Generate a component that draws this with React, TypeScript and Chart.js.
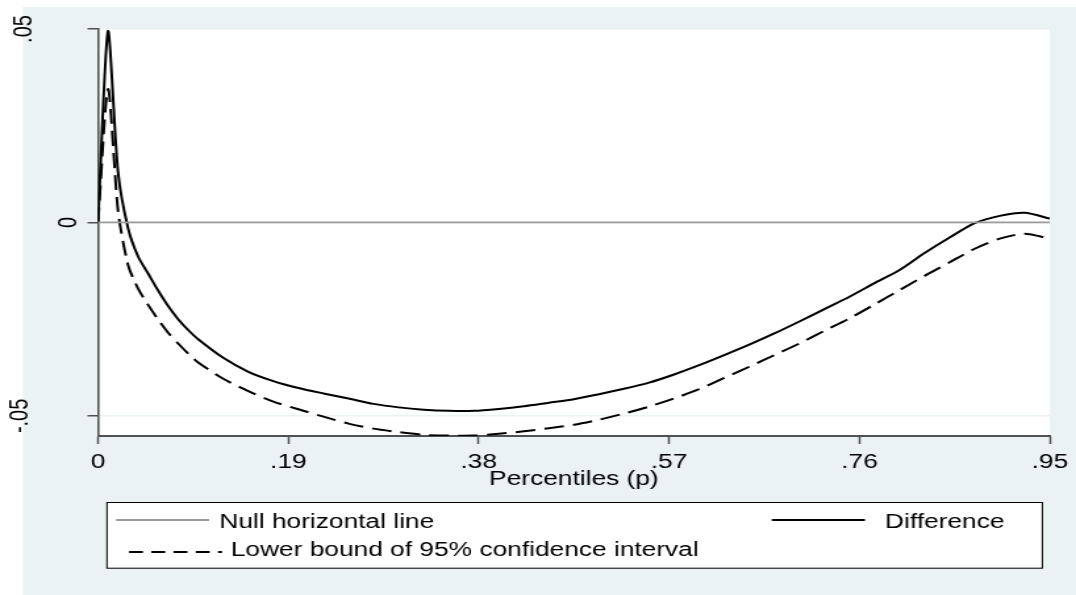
import React, { useEffect, useRef } from "react";
import { Chart, registerables } from "chart.js";

Chart.register(...registerables);

// ---------------- data ----------------
const percentiles = [
  0, 0.01, 0.02, 0.03, 0.04, 0.05, 0.06, 0.07, 0.08, 0.09,
  0.1, 0.125, 0.15, 0.175, 0.2, 0.225, 0.25, 0.275, 0.3, 0.325,
  0.35, 0.375, 0.4, 0.425, 0.45, 0.475, 0.5, 0.525, 0.55, 0.575,
  0.6, 0.625, 0.65, 0.675, 0.7, 0.725, 0.75, 0.775, 0.8, 0.825,
  0.85, 0.875, 0.9, 0.925, 0.95,
];

const difference = [
  0, 0.0495, 0.013, -0.0015, -0.0088, -0.0132, -0.0176, -0.0216, -0.025, -0.0278,
  -0.0302, -0.035, -0.0386, -0.041, -0.0428, -0.0442, -0.0455, -0.0469, -0.0478, -0.0484,
  -0.0487, -0.0487, -0.0482, -0.0475, -0.0466, -0.0457, -0.0444, -0.043, -0.0414, -0.0393,
  -0.0369, -0.0343, -0.0316, -0.0287, -0.0256, -0.0224, -0.0192, -0.0157, -0.0123, -0.0079,
  -0.0039, -0.0002, 0.0017, 0.0025, 0.001,
];

const lowerBound = [
  0, 0.0345, 0.003, -0.011, -0.0171, -0.0213, -0.0251, -0.0285, -0.0313, -0.0339,
  -0.0362, -0.0404, -0.0436, -0.0463, -0.0483, -0.0502, -0.052, -0.0533, -0.0542, -0.0549,
  -0.0551, -0.0551, -0.0546, -0.054, -0.0532, -0.0523, -0.051, -0.0494, -0.0476, -0.0455,
  -0.0431, -0.0402, -0.0373, -0.0343, -0.0313, -0.028, -0.0248, -0.0212, -0.0175, -0.0138,
  -0.0103, -0.0068, -0.0042, -0.0029, -0.0042,
];

const nullX = [0, 0.95];
const nullY = [0, 0];

const seriesNames = [
  "Null horizontal line",
  "Difference",
  "Lower bound of 95% confidence interval",
];

const xTickValues = [0, 0.19, 0.38, 0.57, 0.76, 0.95];
const xTickLabels = ["0", ".19", ".38", ".57", ".76", ".95"];
const yTickValues = [0.05, 0, -0.05];
const yTickLabels = [".05", "0", "-.05"];
const xTitle = "Percentiles (p)";

const X_MIN = 0;
const X_MAX = 0.95;
const Y_MIN = -0.0552;
const Y_MAX = 0.05;

// ---------------- styles ----------------
const CANVAS_W = 818;
const CANVAS_H = 595;
const FONT = '"Liberation Sans", Arial, Helvetica, sans-serif';
const BG = "#EAF2F3";
const GRID = "#EAF2F3";
const AXIS = "#505050";
const NULL_GRAY = "#9b9b9b";
const yLabelX = [24, 57.8, 21];

const stataPlugin = {
  id: "stataLook",
  beforeDraw(chart: any) {
    const { ctx, chartArea } = chart;
    ctx.save();
    ctx.fillStyle = "#ffffff";
    ctx.fillRect(0, 0, chart.width, chart.height);
    ctx.fillStyle = BG;
    ctx.fillRect(17.5, 7, chart.width - 17.5, chart.height - 7);
    ctx.fillStyle = "#ffffff";
    ctx.fillRect(
      chartArea.left,
      chartArea.top,
      chartArea.right - chartArea.left,
      chartArea.bottom - chartArea.top
    );
    ctx.restore();
  },
  afterDraw(chart: any) {
    const { ctx } = chart;
    const yScale = chart.scales.y;
    ctx.save();
    // rotated y tick labels
    ctx.font = `20px ${FONT}`;
    ctx.fillStyle = "#000";
    yTickValues.forEach((v, i) => {
      const py = yScale.getPixelForValue(v);
      ctx.save();
      ctx.translate(yLabelX[i], py);
      ctx.rotate(-Math.PI / 2);
      ctx.textAlign = "center";
      ctx.textBaseline = "alphabetic";
      ctx.fillText(yTickLabels[i], 0, 0);
      ctx.restore();
    });

    // legend
    const bx = 81.3, by = 502, bw = 792.4 - 81.3, bh = 65.7;
    ctx.fillStyle = "#ffffff";
    ctx.fillRect(bx, by, bw, bh);
    ctx.strokeStyle = "#000";
    ctx.lineWidth = 1;
    ctx.strokeRect(bx, by + 0.5, bw, bh);

    const ds = chart.data.datasets;
    ctx.lineCap = "butt";
    // row 1 key: null line
    ctx.strokeStyle = ds[0].borderColor;
    ctx.lineWidth = 2;
    ctx.setLineDash([]);
    ctx.beginPath();
    ctx.moveTo(88.2, 520);
    ctx.lineTo(159.1, 520);
    ctx.stroke();
    // col 2 key: difference
    ctx.strokeStyle = ds[1].borderColor;
    ctx.beginPath();
    ctx.moveTo(586.7, 520);
    ctx.lineTo(657.6, 520);
    ctx.stroke();
    // row 2 key: lower bound dashed
    ctx.strokeStyle = ds[2].borderColor;
    ctx.setLineDash([10.6, 6.3]);
    ctx.beginPath();
    ctx.moveTo(98.1, 552);
    ctx.lineTo(168.8, 552);
    ctx.stroke();
    ctx.setLineDash([]);

    ctx.fillStyle = "#000";
    ctx.textAlign = "left";
    ctx.textBaseline = "alphabetic";
    ctx.fillText(ds[0].label, 166.7, 528);
    ctx.fillText(ds[1].label, 672.8, 528);
    ctx.fillText(ds[2].label, 175.4, 555.5);
    ctx.restore();
  },
};

export default function App() {
  const canvasRef = useRef<HTMLCanvasElement | null>(null);

  useEffect(() => {
    const canvas = canvasRef.current;
    if (!canvas) return;
    const chart = new Chart(canvas, {
      type: "line",
      data: {
        datasets: [
          {
            label: seriesNames[0],
            data: nullX.map((x, i) => ({ x, y: nullY[i] })),
            borderColor: NULL_GRAY,
            borderWidth: 1.8,
            pointRadius: 0,
            tension: 0,
            fill: false,
          },
          {
            label: seriesNames[1],
            data: percentiles.map((x, i) => ({ x, y: difference[i] })),
            borderColor: "#000000",
            borderWidth: 2,
            pointRadius: 0,
            tension: 0.25,
            fill: false,
          },
          {
            label: seriesNames[2],
            data: percentiles.map((x, i) => ({ x, y: lowerBound[i] })),
            borderColor: "#000000",
            borderWidth: 2,
            borderDash: [15, 7],
            pointRadius: 0,
            tension: 0.25,
            fill: false,
          },
        ],
      },
      options: {
        responsive: false,
        animation: false,
        devicePixelRatio: 1,
        layout: { padding: { left: 0, right: 18.25, top: 29, bottom: 0 } },
        plugins: {
          legend: { display: false },
          tooltip: { enabled: false },
        },
        scales: {
          x: {
            type: "linear",
            min: X_MIN,
            max: X_MAX,
            afterBuildTicks: (s: any) => {
              s.ticks = xTickValues.map((v) => ({ value: v }));
            },
            afterFit: (s: any) => {
              s.height = 159;
            },
            ticks: {
              autoSkip: false,
              maxRotation: 0,
              minRotation: 0,
              padding: 6,
              color: "#000",
              font: { family: FONT, size: 20 },
              callback: (value: any) => {
                const i = xTickValues.findIndex((t) => Math.abs(t - Number(value)) < 1e-9);
                return i >= 0 ? xTickLabels[i] : "";
              },
            },
            grid: {
              display: true,
              drawOnChartArea: false,
              drawTicks: true,
              tickLength: 8,
              tickColor: AXIS,
              tickWidth: 1.5,
            },
            border: { display: true, color: AXIS, width: 2 },
            title: {
              display: true,
              text: xTitle,
              color: "#000",
              font: { family: FONT, size: 20 },
              padding: { top: 0, bottom: 104 },
            },
          },
          y: {
            type: "linear",
            min: Y_MIN,
            max: Y_MAX,
            afterBuildTicks: (s: any) => {
              s.ticks = yTickValues.map((v) => ({ value: v }));
            },
            afterFit: (s: any) => {
              s.width = 74.5;
            },
            ticks: { display: false },
            grid: {
              display: true,
              drawOnChartArea: true,
              drawTicks: true,
              color: GRID,
              lineWidth: 1.5,
              tickLength: 8,
              tickColor: AXIS,
              tickWidth: 1.5,
            },
            border: { display: true, color: AXIS, width: 1.6 },
          },
        },
      } as any,
      plugins: [stataPlugin as any],
    });
    return () => {
      chart.destroy();
    };
  }, []);

  return (
    <div
      style={{
        position: "absolute",
        left: 0,
        top: 0,
        width: 1076,
        height: 595,
        background: "#ffffff",
      }}
    >
      <canvas
        ref={canvasRef}
        width={CANVAS_W}
        height={CANVAS_H}
        style={{ width: "1076px", height: "595px", display: "block" }}
      />
    </div>
  );
}
